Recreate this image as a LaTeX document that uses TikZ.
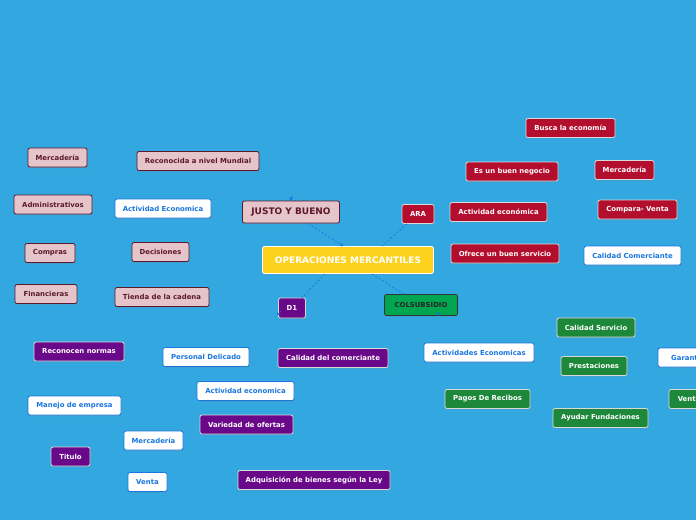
\documentclass[tikz,border=0pt]{standalone}
\usepackage{fontspec}
\setmainfont{DejaVu Sans}
\usepackage{tikz}
\usetikzlibrary{arrows.meta, shadows}
\definecolor{bgblue}{RGB}{51,167,223}
\definecolor{lineblue}{RGB}{25,110,225}
\definecolor{boxpink}{RGB}{229,196,202}
\definecolor{pinkline}{RGB}{92,24,44}
\definecolor{boxred}{RGB}{180,14,46}
\definecolor{boxpurple}{RGB}{106,8,138}
\definecolor{boxgreen}{RGB}{30,136,58}
\definecolor{boxlime}{RGB}{0,166,80}
\definecolor{boxyellow}{RGB}{252,210,28}
\definecolor{textblue}{RGB}{26,118,222}
\tikzset{
  base/.style={rectangle, minimum height=19pt, inner sep=1pt, align=center, font=\fontsize{6.9}{8}\selectfont\bfseries, rounded corners=2pt, line width=0.8pt, drop shadow={shadow xshift=0.5pt, shadow yshift=-1pt, opacity=0.25}},
  pinkbox/.style={base, draw=pinkline, fill=boxpink, text=pinkline},
  redbox/.style={base, draw=white!85!black, fill=boxred, text=white},
  purplebox/.style={base, draw=white!85!black, fill=boxpurple, text=white},
  greenbox/.style={base, draw=white!85!black, fill=boxgreen, text=white},
  whitebox/.style={base, draw=textblue, fill=white, text=textblue},
  mainbox/.style={base, minimum width=171pt, minimum height=27pt, draw=white, fill=boxyellow, text=white, font=\fontsize{9}{10}\selectfont\bfseries},
  arrow/.style={-{Stealth[length=3pt, width=4pt]}, dashed, dash pattern=on 2pt off 2pt, lineblue, line width=0.6pt},
  link/.style={dashed, dash pattern=on 2pt off 2pt, lineblue, line width=0.6pt},
}
\begin{document}
\begin{tikzpicture}[x=1pt, y=-1pt]
\fill[bgblue] (0,0) rectangle (696,520);
\useasboundingbox (0,0) rectangle (696,520);
\clip (0,0) rectangle (696,520);

% centro
\node (om) [mainbox] at (348,260) {OPERACIONES MERCANTILES};
\node (jb) [pinkbox, minimum width=97pt, minimum height=22pt, font=\fontsize{9}{10}\selectfont\bfseries] at (291,212) {JUSTO Y BUENO};
\node (ara) [redbox, minimum width=32pt] at (418,214) {ARA};
\node (d1) [purplebox, minimum width=27pt, minimum height=20pt] at (292,308) {D1};
\node (col) [base, minimum width=73pt, minimum height=21pt, draw=black!80, fill=boxlime, text=black!85] at (421,305) {COLSUBSIDIO};

% justo y bueno
\node (jb1) [pinkbox, minimum width=59pt] at (57.5,157.5) {Mercadería};
\node (jb2) [pinkbox, minimum width=122pt] at (198,161) {Reconocida a nivel Mundial};
\node (jb3) [pinkbox, minimum width=78pt] at (53,204.5) {Administrativos};
\node (jb4) [whitebox, minimum width=96pt] at (163,208.5) {Actividad Economica};
\node (jb5) [pinkbox, minimum width=50pt] at (50,253) {Compras};
\node (jb6) [pinkbox, minimum width=57pt] at (160.5,252) {Decisiones};
\node (jb7) [pinkbox, minimum width=62pt] at (46,294) {Financieras};
\node (jb8) [pinkbox, minimum width=94pt] at (162,297) {Tienda de la cadena};

% ara
\node (ar1) [redbox, minimum width=89pt] at (570.5,128) {Busca la economía};
\node (ar2) [redbox, minimum width=92pt] at (512,171.5) {Es un buen negocio};
\node (ar3) [redbox, minimum width=59pt] at (624.5,170) {Mercadería};
\node (ar4) [redbox, minimum width=97pt] at (498.5,212) {Actividad económica};
\node (ar5) [redbox, minimum width=79pt] at (637.5,209.5) {Compara- Venta};
\node (ar6) [redbox, minimum width=108pt] at (505,253.5) {Ofrece un buen servicio};
\node (ar7) [whitebox, minimum width=97pt] at (632.5,255.5) {Calidad Comerciante};

% d1
\node (d11) [purplebox, minimum width=90pt] at (79,351.5) {Reconocen normas};
\node (d12) [whitebox, minimum width=86pt] at (206,357) {Personal Delicado};
\node (d13) [purplebox, minimum width=110pt] at (333,358) {Calidad del comerciante};
\node (d14) [whitebox, minimum width=97pt] at (245.5,391) {Actividad economica};
\node (d15) [whitebox, minimum width=93pt] at (74.5,405.5) {Manejo de empresa};
\node (d16) [purplebox, minimum width=93pt] at (246.5,424.5) {Variedad de ofertas};
\node (d17) [whitebox, minimum width=59pt] at (153.5,440.5) {Mercadería};
\node (d18) [purplebox, minimum width=39pt] at (70.5,456.5) {Titulo};
\node (d19) [whitebox, minimum width=39pt] at (147.5,482) {Venta};
\node (d110) [purplebox, minimum width=152pt] at (314,480) {Adquisición de bienes según la Ley};

% colsubsidio
\node (co1) [greenbox, minimum width=78pt] at (596,327.5) {Calidad Servicio};
\node (co2) [whitebox, minimum width=110pt] at (479,352.5) {Actividades Economicas};
\node (co3) [greenbox, minimum width=66pt] at (594,366) {Prestaciones};
\node (co4) [whitebox, minimum width=60pt] at (688,357.5) {Garantía};
\node (co5) [greenbox, minimum width=85pt] at (487.5,399) {Pagos De Recibos};
\node (co6) [greenbox, minimum width=95pt] at (600.5,418) {Ayudar Fundaciones};
\node (co7) [greenbox, minimum width=40pt] at (689,399) {Venta};

% conectores
\coordinate (jbin) at (291,196);
\coordinate (d1in) at (281,311);
\coordinate (colin) at (438,312);
\draw[arrow] (jb) -- (om.north west -| 343,0);
\draw[link] (ara) -- (om.north east -| 382,0);
\draw[link] (om.south west -| 325,0) -- (d1);
\draw[link] (om.south east -| 372,0) -- (col);
\draw[arrow] (jbin) -- (jb.north);
\draw[arrow] (d1in) -- ++(-4,4);
\draw[arrow] (colin) -- (col.south -| 438,0);
\end{tikzpicture}
\end{document}
